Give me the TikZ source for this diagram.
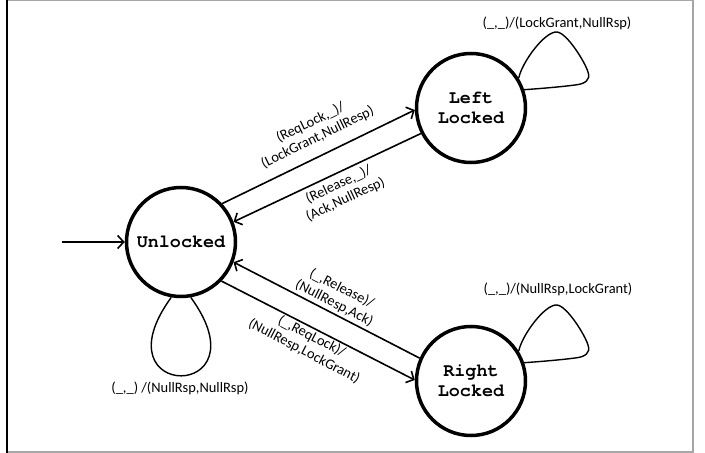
\documentclass[tikz,border=0pt]{standalone}
\usepackage{fontspec}
\setmainfont{Carlito}
\newfontfamily\statefont{TeX Gyre Cursor}
\usetikzlibrary{arrows.meta}
\begin{document}
\begin{tikzpicture}[x=1bp,y=-1bp,
  state/.style={circle,draw,line width=3.5bp,minimum size=109bp,inner sep=0pt,
    font=\statefont\bfseries\fontsize{18.5}{20}\selectfont,align=center},
  trans/.style={line width=1.6bp,-{Straight Barb[length=6bp,width=13bp,line width=1.6bp]}},
  loopline/.style={line width=1.4bp,line join=round},
  lab/.style={font=\fontsize{14.5}{16.5}\selectfont,align=center,inner sep=0pt}]
\useasboundingbox (0,0) rectangle (705,453);
\draw[gray!70,line width=1.5bp] (7,0.75) rectangle (693,452);
\draw[line width=2bp] (7,0) -- (7,453);

\node[state] (u) at (181,242) {Unlocked};
\node[state] (l) at (471,108) {Left\\Locked};
\node[state] (r) at (471,381) {Right\\Locked};
\coordinate (init) at (62,242);

\draw[trans] (init) -- (u);
\draw[trans] (u.43) -- (l.182);
\draw[trans] (l.207) -- (u.21);
\draw[trans] (r.156) -- (u.-21);
\draw[trans] (u.-44) -- (r.179);

\node[lab,rotate=26] (t1) at (314,130) {(ReqLock,\_)/\\(LockGrant,NullResp)};
\node[lab,rotate=25] (t2) at (342,192) {(Release,\_)/\\(Ack,NullResp)};
\node[lab,rotate=-27] (t3) at (338,296) {(\_,Release)/\\(NullResp,Ack)};
\node[lab,rotate=-27.5] (t4) at (308,344) {(\_,ReqLock)/\\(NullResp,LockGrant)};

% self loops
\draw[loopline] (u.-100) .. controls (95,402) and (267,402) .. (u.-80);
\node[lab] (ul) at (180,388) {(\_,\_) /(NullRsp,NullRsp)};

\draw[loopline] (l.32) .. controls (522,62) and (545,31) .. (557,32)
  .. controls (567,33) and (585,62) .. (588,72)
  .. controls (591,80) and (585,84) .. (575,85)
  .. controls (560,87) and (535,89) .. (l.19);
\node[lab] (ll) at (557,23) {(\_,\_)/(LockGrant,NullRsp)};

\draw[loopline] (r.32) .. controls (522,335) and (545,304) .. (557,305)
  .. controls (567,306) and (585,335) .. (588,345)
  .. controls (591,353) and (585,357) .. (575,358)
  .. controls (560,360) and (535,362) .. (r.19);
\node[lab] (rl) at (558,289) {(\_,\_)/(NullRsp,LockGrant)};
\end{tikzpicture}
\end{document}
